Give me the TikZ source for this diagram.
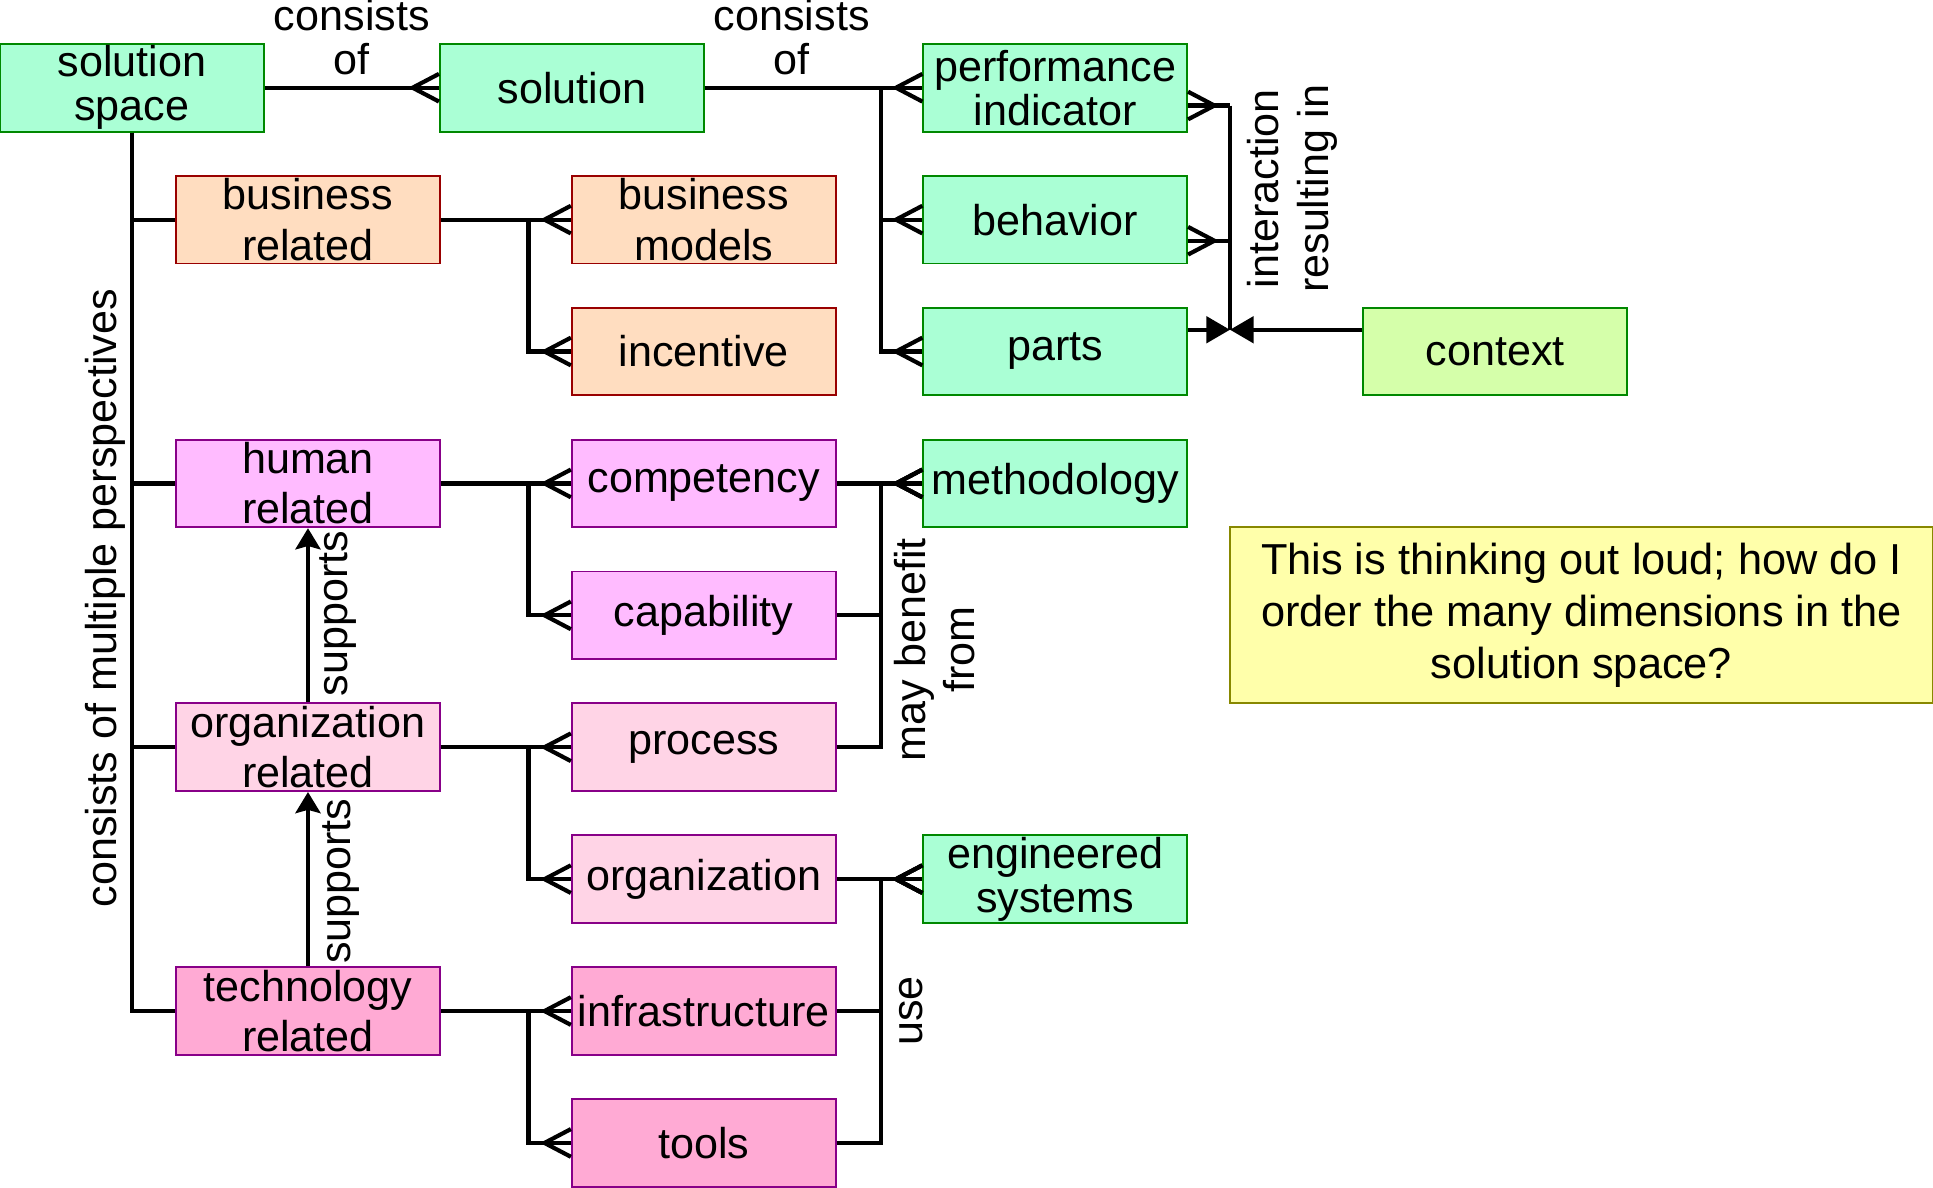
\documentclass[tikz,border=0pt]{standalone}
\usepackage{fontspec}
\setmainfont{Liberation Sans}
\usepackage{xcolor}
\usetikzlibrary{arrows.meta}

\definecolor{mint}{RGB}{170,255,213}
\definecolor{leaf}{RGB}{0,136,0}
\definecolor{lime}{RGB}{213,255,170}
\definecolor{peach}{RGB}{255,221,192}
\definecolor{brick}{RGB}{153,0,0}
\definecolor{orchid}{RGB}{255,187,255}
\definecolor{plum}{RGB}{136,0,136}
\definecolor{blush}{RGB}{255,212,230}
\definecolor{rose}{RGB}{255,170,212}
\definecolor{lemon}{RGB}{255,255,170}
\definecolor{mustard}{RGB}{136,136,0}

% crow's foot tip: wide end on the box
\pgfdeclarearrow{
  name = Crow,
  parameters = {\the\pgfarrowlength,\the\pgfarrowwidth},
  setup code = {
    \pgfarrowssettipend{0pt}
    \pgfarrowssetlineend{0pt}
    \pgfarrowssetbackend{-\pgfarrowlength}
    \pgfarrowssavethe\pgfarrowlength
    \pgfarrowssavethe\pgfarrowwidth
  },
  drawing code = {
    \pgfpathmoveto{\pgfqpoint{0pt}{.5\pgfarrowwidth}}
    \pgfpathlineto{\pgfqpoint{-\pgfarrowlength}{0pt}}
    \pgfpathlineto{\pgfqpoint{0pt}{-.5\pgfarrowwidth}}
    \pgfusepathqstroke
  },
  defaults = {length = 0.4cm, width = 0.42cm}
}

\begin{document}
\begin{tikzpicture}[
  box/.style={draw, line width=0.8pt, minimum width=4cm, minimum height=1.33cm,
    inner sep=0pt, align=center, font=\fontsize{18.6}{21.7}\selectfont},
  sys/.style={box, fill=mint, draw=leaf, font=\fontsize{18.6}{19}\selectfont},
  env/.style={box, fill=lime, draw=leaf},
  biz/.style={box, fill=peach, draw=brick},
  hum/.style={box, fill=orchid, draw=plum},
  orgbox/.style={box, fill=blush, draw=plum},
  tech/.style={box, fill=rose, draw=plum},
  memo/.style={draw=mustard, fill=lemon, line width=0.8pt, minimum width=10.65cm,
    minimum height=2.67cm, align=center, font=\fontsize{18.7}{22.6}\selectfont},
  link/.style={line width=1.8pt},
  many/.style={link, -Crow},
  lbl/.style={inner sep=0pt, align=center, font=\fontsize{18.6}{18.7}\selectfont},
  vlbl/.style={lbl, rotate=90, font=\fontsize{18.6}{21.5}\selectfont}
]
\useasboundingbox (0,0) rectangle (29.31,-18);

% solution side
\node[sys] (space) at (2,-1.33) {solution\\space};
\node[sys] (sol) at (8.67,-1.33) {solution};
\node[sys] (perf) at (16,-1.33) {performance\\indicator};
\node[sys] (behav) at (16,-3.33) {behavior};
\node[sys] (parts) at (16,-5.33) {parts};
\node[env] (ctx) at (22.67,-5.33) {context};
\node[sys] (meth) at (16,-7.33) {methodology};
\node[sys] (engsys) at (16,-13.33) {engineered\\systems};

% perspectives
\node[biz] (bizrel) at (4.67,-3.33) {business\\related};
\node[biz] (bizmod) at (10.67,-3.33) {business\\models};
\node[biz] (incent) at (10.67,-5.33) {incentive};
\node[hum] (humrel) at (4.67,-7.33) {human\\related};
\node[hum] (compet) at (10.67,-7.33) {competency};
\node[hum] (capab) at (10.67,-9.33) {capability};
\node[orgbox] (orgrel) at (4.67,-11.33) {organization\\related};
\node[orgbox] (proc) at (10.67,-11.33) {process};
\node[orgbox] (orga) at (10.67,-13.33) {organization};
\node[tech] (techrel) at (4.67,-15.33) {technology\\related};
\node[tech] (infra) at (10.67,-15.33) {infrastructure};
\node[tech] (tools) at (10.67,-17.33) {tools};

\node[memo] (remark) at (23.98,-9.33) {This is thinking out loud; how do I\\order the many dimensions in the\\solution space?};

% consists of
\draw[many] (space.east) -- (sol.west) node[lbl, midway, above=0.17cm] (cons1) {consists\\of};
\draw[many] (sol.east) -- (perf.west) node[lbl, pos=0.4, above=0.17cm] (cons2) {consists\\of};
\foreach \n in {behav, parts}
  \draw[many] (sol.east) -- ++(2.67,0) |- (\n.west);

% multiple perspectives
\foreach \n in {bizrel, humrel, orgrel, techrel}
  \draw[link] (space.south) |- (\n.west);
\node[vlbl] (persp) at (1.59,-9.07) {consists of multiple perspectives};

\foreach \a/\b in {bizrel/bizmod, humrel/compet, orgrel/proc, techrel/infra}
  \draw[many] (\a.east) -- (\b.west);
\foreach \a/\b in {bizrel/incent, humrel/capab, orgrel/orga, techrel/tools}
  \draw[many] (\a.east) -- ++(1.33,0) |- (\b.west);

% supports
\draw[link, -{Stealth[length=0.32cm, width=0.38cm, inset=0.05cm]}] (orgrel.north) -- (humrel.south);
\draw[link, -{Stealth[length=0.32cm, width=0.38cm, inset=0.05cm]}] (techrel.north) -- (orgrel.south);
\node[vlbl] (sup1) at (5.12,-9.3) {supports};
\node[vlbl] (sup2) at (5.17,-13.36) {supports};

% may benefit from
\draw[many] (compet.east) -- (meth.west);
\foreach \n in {capab, proc}
  \draw[many] (\n.east) -- ++(0.67,0) |- (meth.west);
\node[vlbl] (benefit) at (14.17,-9.85) {may benefit\\from};

% use
\draw[many] (orga.east) -- (engsys.west);
\foreach \n in {infra, tools}
  \draw[many] (\n.east) -- ++(0.67,0) |- (engsys.west);
\node[vlbl] (use) at (13.81,-15.33) {use};

% interaction resulting in
\coordinate (itop) at (18.65,-1.6);
\coordinate (ibot) at (18.65,-5.0);
\draw[link] (itop) -- (ibot);
\draw[link, Crow-] ([yshift=-0.27cm]perf.east) -- (itop);
\draw[link, Crow-] ([yshift=-0.32cm]behav.east) -- ++(0.65,0);
\draw[link, -{Triangle[length=0.36cm, width=0.4cm]}] ([yshift=0.33cm]parts.east) -- (ibot);
\draw[link, -{Triangle[length=0.36cm, width=0.4cm]}] ([yshift=0.33cm]ctx.west) -- (ibot);
\node[vlbl] (inter) at (19.6,-2.86) {interaction\\resulting in};
\end{tikzpicture}
\end{document}
